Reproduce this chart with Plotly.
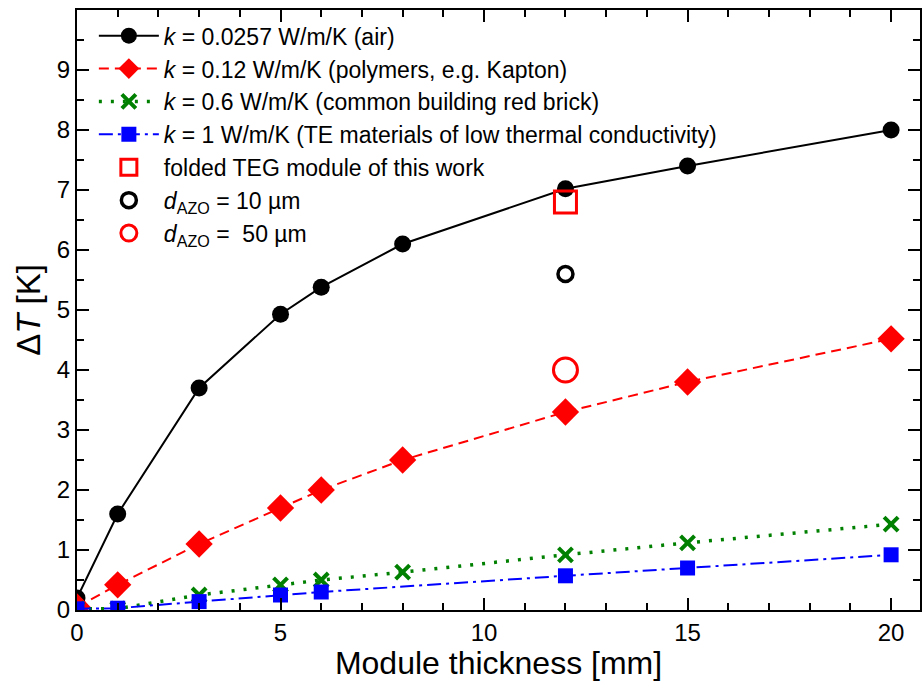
import plotly.graph_objects as go

# Data
x_air = [0, 1, 3, 5, 6, 8, 12, 15, 20]
y_air = [0.2, 1.6, 3.7, 4.93, 5.38, 6.1, 7.02, 7.4, 8.0]

x_poly = [0, 1, 3, 5, 6, 8, 12, 15, 20]
y_poly = [0.05, 0.42, 1.1, 1.7, 2.0, 2.5, 3.3, 3.8, 4.52]

x_brick = [0, 1, 3, 5, 6, 8, 12, 15, 20]
y_brick = [0.02, 0.02, 0.25, 0.42, 0.5, 0.63, 0.92, 1.12, 1.43]

x_te = [0, 1, 3, 5, 6, 12, 15, 20]
y_te = [0.02, 0.03, 0.14, 0.25, 0.3, 0.57, 0.7, 0.92]

x_teg = [12]
y_teg = [6.8]
x_azo10 = [12]
y_azo10 = [5.6]
x_azo50 = [12]
y_azo50 = [4.0]

names = [
    "<i>k</i> = 0.0257 W/m/K (air)",
    "<i>k</i> = 0.12 W/m/K (polymers, e.g. Kapton)",
    "<i>k</i> = 0.6 W/m/K (common building red brick)",
    "<i>k</i> = 1 W/m/K (TE materials of low thermal conductivity)",
    "folded TEG module of this work",
    "<i>d</i><sub>AZO</sub> = 10 µm",
    "<i>d</i><sub>AZO</sub> =  50 µm",
]

fig = go.Figure()
fig.add_trace(go.Scatter(x=x_air, y=y_air, mode="lines+markers", name=names[0],
                         line=dict(color="black", width=2),
                         marker=dict(symbol="circle", size=17, color="black")))
fig.add_trace(go.Scatter(x=x_poly, y=y_poly, mode="lines+markers", name=names[1],
                         line=dict(color="#ff0000", width=2, dash="10px,6px"),
                         marker=dict(symbol="diamond", size=21, color="#ff0000")))
fig.add_trace(go.Scatter(x=x_brick, y=y_brick, mode="lines+markers", name=names[2],
                         line=dict(color="#008000", width=3.5, dash="3px,9px"),
                         marker=dict(symbol="x-thin-open", size=14, color="#008000",
                                     line=dict(color="#008000", width=4))))
fig.add_trace(go.Scatter(x=x_te, y=y_te, mode="lines+markers", name=names[3],
                         line=dict(color="#0000ff", width=2, dash="14px,5px,3px,5px"),
                         marker=dict(symbol="square", size=15, color="#0000ff")))
fig.add_trace(go.Scatter(x=x_teg, y=y_teg, mode="markers", name=names[4],
                         marker=dict(symbol="square-open", size=22, color="#ff0000",
                                     line=dict(color="#ff0000", width=3))))
fig.add_trace(go.Scatter(x=x_azo10, y=y_azo10, mode="markers", name=names[5],
                         marker=dict(symbol="circle-open", size=15, color="black",
                                     line=dict(color="black", width=3.5))))
fig.add_trace(go.Scatter(x=x_azo50, y=y_azo50, mode="markers", name=names[6],
                         marker=dict(symbol="circle-open", size=24, color="#ff0000",
                                     line=dict(color="#ff0000", width=3))))

axis_common = dict(
    showline=True, linecolor="black", linewidth=2, mirror="allticks",
    ticks="inside", ticklen=12, tickwidth=2, tickcolor="black",
    showgrid=False, zeroline=False, automargin=False,
    tickfont=dict(size=24, color="black"),
)

fig.update_xaxes(range=[0, 20.71], dtick=5, tick0=0,
                 minor=dict(ticks="inside", ticklen=7, tickwidth=2, dtick=1, tickcolor="black"),
                 title=dict(text="Module thickness [mm]", font=dict(size=32, color="black"), standoff=6),
                 **axis_common)
fig.update_yaxes(range=[0, 10], dtick=1, tick0=0,
                 minor=dict(ticks="inside", ticklen=7, tickwidth=2, dtick=0.5, tickcolor="black"),
                 title=dict(text="Δ<i>T</i> [K]", font=dict(size=33, color="black"), standoff=6),
                 **axis_common)

fig.update_layout(
    width=923, height=681,
    margin=dict(l=77, r=3, t=10, b=71),
    plot_bgcolor="white", paper_bgcolor="white",
    font=dict(family="Liberation Sans, Arial, sans-serif", color="black"),
    showlegend=True,
    legend=dict(x=0.02, y=0.993, xanchor="left", yanchor="top",
                bgcolor="rgba(0,0,0,0)", font=dict(size=23, color="black"),
                itemwidth=60, tracegroupgap=0),
)

fig.write_html("out.html")
